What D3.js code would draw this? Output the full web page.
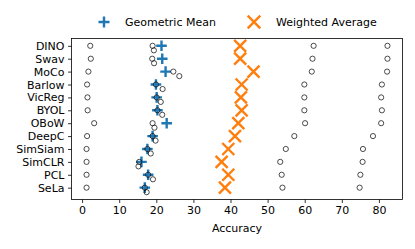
<!DOCTYPE html>
<html>
<head>
<meta charset="utf-8">
<script src="https://cdn.jsdelivr.net/npm/d3@7"></script>
<style>
  body { margin: 0; background: #fff; }
  svg text { font-family: "DejaVu Sans", sans-serif; fill: #000; }
</style>
</head>
<body>
<div id="chart"></div>
<script>
var methods = ["DINO","Swav","MoCo","Barlow","VicReg","BYOL","OBoW","DeepC","SimSiam","SimCLR","PCL","SeLa"];

// per dataset accuracies (one circle each)
var dsLow  = [2.2, 2.35, 1.7, 1.35, 1.45, 1.5, 3.25, 1.35, 1.2, 1.2, 1.2, 1.2];
var dsMidA = [19.0, 18.9, 24.6, 19.9, 20.1, 20.3, 19.0, 19.0, 17.6, 15.4, 17.8, 16.9];
var dsMidB = [19.35, 19.4, 26.2, 21.7, 21.2, 21.6, 19.5, 19.8, 18.5, 15.2, 19.1, 17.4];
var dsHigh = [62.4, 62.1, 61.9, 59.9, 59.9, 59.9, 60.1, 57.2, 54.9, 53.4, 53.8, 54.0];
var dsTop  = [82.3, 82.3, 82.2, 80.8, 80.6, 80.8, 80.6, 78.4, 75.7, 75.6, 75.0, 74.8];

var geoMean     = [21.4, 21.6, 22.5, 19.9, 20.1, 20.3, 22.8, 19.0, 17.6, 16.0, 17.8, 16.9];
var weightedAvg = [42.6, 42.6, 46.2, 43.0, 42.8, 43.0, 42.1, 41.2, 39.4, 37.6, 39.4, 38.5];

var xTicks = [0, 10, 20, 30, 40, 50, 60, 70, 80];

var W = 415, H = 249;
var padL = 71.5, padR = 402.5, padT = 38.5, padB = 199.5;
var rowShift = 0.35;   // second mid circle is drawn a bit below its row

var svg = d3.select("#chart").append("svg")
  .attr("width", W).attr("height", H);

var allVals = [].concat(dsLow, dsMidA, dsMidB, dsHigh, dsTop, geoMean, weightedAvg);
var ext = d3.extent(allVals);
var pad = (ext[1] - ext[0]) * 0.05;
var x = d3.scaleLinear().domain([ext[0] - pad, ext[1] + pad]).range([padL, padR]);

var yMax = methods.length - 1 + rowShift;
var yPad = yMax * 0.05;
var y = d3.scaleLinear().domain([-yPad, yMax + yPad]).range([padT, padB]);

// axes
var xAxis = d3.axisBottom(x).tickValues(xTicks).tickSize(3.5).tickPadding(3.5).tickSizeOuter(0);
var gx = svg.append("g").attr("transform", "translate(0," + padB + ")").call(xAxis);
gx.select(".domain").remove();
gx.selectAll("line").attr("stroke", "#000").attr("stroke-width", 0.8);
gx.selectAll("text").attr("font-size", 11).style("font-family", "DejaVu Sans");

var yAxis = d3.axisLeft(y).tickValues(d3.range(methods.length))
  .tickFormat(function(i){ return methods[i]; })
  .tickSize(3.5).tickPadding(3.5).tickSizeOuter(0);
var gy = svg.append("g").attr("transform", "translate(" + padL + ",0)").call(yAxis);
gy.select(".domain").remove();
gy.selectAll("line").attr("stroke", "#000").attr("stroke-width", 0.8);
gy.selectAll("text").attr("font-size", 11).style("font-family", "DejaVu Sans");

svg.append("rect")
  .attr("x", padL).attr("y", padT)
  .attr("width", padR - padL).attr("height", padB - padT)
  .attr("fill", "none").attr("stroke", "#000").attr("stroke-width", 0.8);

svg.append("text")
  .attr("x", (padL + padR) / 2).attr("y", 232)
  .attr("text-anchor", "middle").attr("font-size", 11)
  .text("Accuracy");

// markers
function plusPath(s){ return "M" + (-s) + ",0H" + s + "M0," + (-s) + "V" + s; }
function crossPath(s){ return "M" + (-s) + "," + (-s) + "L" + s + "," + s + "M" + (-s) + "," + s + "L" + s + "," + (-s); }

var plot = svg.append("g");

plot.selectAll(".geo").data(geoMean).enter().append("path")
  .attr("class", "geo")
  .attr("transform", function(d, i){ return "translate(" + x(d) + "," + y(i) + ")"; })
  .attr("d", plusPath(5.3))
  .attr("stroke", "#1f77b4").attr("stroke-width", 2.4).attr("fill", "none");

plot.selectAll(".wavg").data(weightedAvg).enter().append("path")
  .attr("class", "wavg")
  .attr("transform", function(d, i){ return "translate(" + x(d) + "," + y(i) + ")"; })
  .attr("d", crossPath(6))
  .attr("stroke", "#ff7f0e").attr("stroke-width", 2.4).attr("fill", "none");

var series = [
  {vals: dsLow, shift: 0},
  {vals: dsMidA, shift: 0},
  {vals: dsMidB, shift: rowShift},
  {vals: dsHigh, shift: 0},
  {vals: dsTop, shift: 0}
];
series.forEach(function(s){
  plot.append("g").selectAll("circle").data(s.vals).enter().append("circle")
    .attr("cx", function(d){ return x(d); })
    .attr("cy", function(d, i){ return y(i + s.shift); })
    .attr("r", 2.6)
    .attr("fill", "none").attr("stroke", "#000").attr("stroke-width", 0.7);
});

// legend
var leg = svg.append("g").attr("transform", "translate(0,22)");
leg.append("path").attr("transform", "translate(104,0)").attr("d", plusPath(5.5))
  .attr("stroke", "#1f77b4").attr("stroke-width", 2.4);
leg.append("text").attr("x", 125).attr("y", 4).attr("font-size", 11).text("Geometric Mean");
leg.append("path").attr("transform", "translate(254,0)").attr("d", crossPath(6.3))
  .attr("stroke", "#ff7f0e").attr("stroke-width", 2.4);
leg.append("text").attr("x", 276).attr("y", 4).attr("font-size", 11).text("Weighted Average");
</script>
</body>
</html>
